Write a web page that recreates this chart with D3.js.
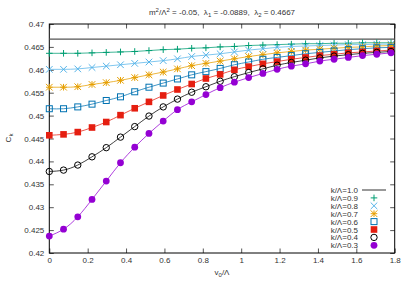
<!DOCTYPE html>
<html><head><meta charset="utf-8">
<script src="https://cdn.jsdelivr.net/npm/d3@7"></script>
<style>body{margin:0;background:#fff}svg{display:block}text{font-family:"Liberation Sans",Arial,sans-serif;white-space:pre}</style>
</head><body>
<svg id="c" width="409" height="287"></svg>
<script>
const xVals = [0, 0.0742, 0.1484, 0.2226, 0.2968, 0.371, 0.4452, 0.5194, 0.5936, 0.6678, 0.742, 0.8162, 0.8904, 0.9646, 1.0388, 1.113, 1.1872, 1.2614, 1.3356, 1.4098, 1.484, 1.5582, 1.6324, 1.7066, 1.7808];
const k10 = 0.4667;
const k09 = [0.4636,0.4636,0.4636,0.4637,0.4638,0.4639,0.4640,0.4642,0.4644,0.4645,0.4647,0.4648,0.4650,0.4651,0.4653,0.4654,0.4655,0.4656,0.4657,0.4657,0.4658,0.4658,0.4659,0.4659,0.4659];
const k08 = [0.4601,0.4601,0.4602,0.4605,0.4608,0.4611,0.4614,0.4617,0.4620,0.4624,0.4629,0.4632,0.4635,0.4639,0.4643,0.4646,0.4649,0.4651,0.4652,0.4653,0.4654,0.4655,0.4655,0.4656,0.4656];
const k07 = [0.4562,0.4562,0.4563,0.4568,0.4572,0.4577,0.4583,0.4589,0.4595,0.4602,0.4609,0.4614,0.4619,0.4624,0.4629,0.4633,0.4637,0.4640,0.4643,0.4645,0.4647,0.4649,0.4650,0.4652,0.4653];
const k06 = [0.4515,0.4515,0.4519,0.4525,0.4533,0.4541,0.4552,0.4562,0.4571,0.4580,0.4589,0.4596,0.4603,0.4611,0.4617,0.4623,0.4627,0.4631,0.4635,0.4638,0.4641,0.4644,0.4646,0.4648,0.4649];
const k05 = [0.4457,0.4459,0.4464,0.4474,0.4486,0.4501,0.4516,0.4530,0.4544,0.4557,0.4569,0.4581,0.4590,0.4600,0.4607,0.4613,0.4618,0.4623,0.4627,0.4631,0.4634,0.4637,0.4639,0.4641,0.4643];
const k04 = [0.4378,0.4381,0.4392,0.4410,0.4430,0.4453,0.4476,0.4499,0.4519,0.4536,0.4551,0.4563,0.4575,0.4585,0.4594,0.4602,0.4610,0.4616,0.4621,0.4626,0.4630,0.4633,0.4636,0.4638,0.4640];
const k03 = [0.4237,0.4252,0.4279,0.4317,0.4357,0.4397,0.4431,0.4461,0.4488,0.4513,0.4530,0.4546,0.4561,0.4573,0.4583,0.4592,0.4601,0.4608,0.4613,0.4619,0.4623,0.4627,0.4631,0.4634,0.4637];
const labels = ["k/\u039B=1.0","k/\u039B=0.9","k/\u039B=0.8","k/\u039B=0.7","k/\u039B=0.6","k/\u039B=0.5","k/\u039B=0.4","k/\u039B=0.3"];
const xTicks = [0,0.2,0.4,0.6,0.8,1,1.2,1.4,1.6,1.8];
const yTicks = [0.42,0.425,0.43,0.435,0.44,0.445,0.45,0.455,0.46,0.465,0.47];

const series = [
  {lab:labels[1], v:k09, c:"#009e73", m:"plus"},
  {lab:labels[2], v:k08, c:"#56b4e9", m:"cross"},
  {lab:labels[3], v:k07, c:"#e69f00", m:"star"},
  {lab:labels[4], v:k06, c:"#0072b2", m:"osq"},
  {lab:labels[5], v:k05, c:"#e51e10", m:"fsq"},
  {lab:labels[6], v:k04, c:"#000000", m:"ocirc"},
  {lab:labels[7], v:k03, c:"#9400d3", m:"fcirc"}
];

const L=49.3, R=394.7, T=24, B=253;
const svg = d3.select("#c");
const x = d3.scaleLinear().domain([0,1.8]).range([L,R]);
const y = d3.scaleLinear().domain([0.42,0.47]).range([B,T]);

const tk = 4.5;
const g = svg.append("g");
const fmt = d => d3.format("")(+d.toFixed(3));
const axB = d3.axisBottom(x).tickValues(xTicks).tickSize(-tk).tickPadding(4).tickFormat(fmt);
const axT = d3.axisTop(x).tickValues(xTicks).tickSize(-tk).tickFormat("");
const axL = d3.axisLeft(y).tickValues(yTicks).tickSize(-tk).tickPadding(5).tickFormat(fmt);
const axR = d3.axisRight(y).tickValues(yTicks).tickSize(-tk).tickFormat("");
[[axB,`translate(0,${B})`],[axT,`translate(0,${T})`],[axL,`translate(${L},0)`],[axR,`translate(${R},0)`]].forEach(([a,t])=>{
  const gg = g.append("g").attr("transform",t).call(a);
  gg.select(".domain").remove();
  gg.selectAll("line").attr("stroke","#555").attr("stroke-width",1);
  gg.selectAll("text").attr("font-size",8).attr("fill","#333").attr("font-family","Liberation Sans, Arial, sans-serif");
});
svg.append("rect").attr("x",L).attr("y",T).attr("width",R-L).attr("height",B-T)
  .attr("fill","none").attr("stroke","#000").attr("stroke-width",1);

svg.append("line").attr("x1",x(0)).attr("x2",x(1.8)).attr("y1",y(k10)).attr("y2",y(k10))
  .attr("stroke","#555").attr("stroke-width",1.2);

const line = d3.line().x((d,i)=>x(xVals[i])).y(d=>y(d)).curve(d3.curveNatural);

function marker(sel, type, c){
  const s=3.3;
  if(type==="plus"){
    sel.append("path").attr("d",`M${-s},0H${s}M0,${-s}V${s}`).attr("stroke",c).attr("stroke-width",1).attr("fill","none");
  } else if(type==="cross"){
    sel.append("path").attr("d",`M${-s},${-s}L${s},${s}M${-s},${s}L${s},${-s}`).attr("stroke",c).attr("stroke-width",1).attr("fill","none");
  } else if(type==="star"){
    sel.append("path").attr("d",`M${-s},0H${s}M0,${-s}V${s}M${-s},${-s}L${s},${s}M${-s},${s}L${s},${-s}`).attr("stroke",c).attr("stroke-width",1).attr("fill","none");
  } else if(type==="osq"){
    sel.append("rect").attr("x",-3).attr("y",-3).attr("width",6).attr("height",6).attr("fill","none").attr("stroke",c).attr("stroke-width",1);
  } else if(type==="fsq"){
    sel.append("rect").attr("x",-3.3).attr("y",-3.3).attr("width",6.6).attr("height",6.6).attr("fill",c);
  } else if(type==="ocirc"){
    sel.append("circle").attr("r",3.2).attr("fill","none").attr("stroke",c).attr("stroke-width",1);
  } else if(type==="fcirc"){
    sel.append("circle").attr("r",3.4).attr("fill",c);
  }
}

series.forEach(s=>{
  svg.append("path").datum(s.v).attr("d",line).attr("fill","none").attr("stroke",s.c).attr("stroke-width",1).attr("stroke-opacity",0.75);
  s.v.forEach((v,i)=>{
    const gm = svg.append("g").attr("transform",`translate(${x(xVals[i])},${y(v)})`);
    marker(gm, s.m, s.c);
  });
});

const lx=358, ly0=190, dy=7.9;
const lg = svg.append("g");
lg.append("text").attr("x",lx).attr("y",ly0+3).attr("text-anchor","end").attr("font-size",8).attr("fill","#333").text(labels[0]);
lg.append("line").attr("x1",362).attr("x2",386).attr("y1",ly0).attr("y2",ly0).attr("stroke","#555").attr("stroke-width",1.2);
series.forEach((s,i)=>{
  const yy = ly0 + dy*(i+1);
  lg.append("text").attr("x",lx).attr("y",yy+3).attr("text-anchor","end").attr("font-size",8).attr("fill","#333").text(s.lab);
  const gm = lg.append("g").attr("transform",`translate(374,${yy})`);
  marker(gm, s.m, s.c);
});

const t = svg.append("text").attr("x",222).attr("y",15).attr("text-anchor","middle").attr("font-size",8).attr("fill","#333").attr("xml:space","preserve");
t.append("tspan").text("m");
t.append("tspan").attr("dy",-3).attr("font-size",6).text("2");
t.append("tspan").attr("dy",3).text("/\u039B");
t.append("tspan").attr("dy",-3).attr("font-size",6).text("2");
t.append("tspan").attr("dy",3).text(" = -0.05,  \u03BB");
t.append("tspan").attr("dy",2).attr("font-size",6).text("1");
t.append("tspan").attr("dy",-2).text(" = -0.0889,  \u03BB");
t.append("tspan").attr("dy",2).attr("font-size",6).text("2");
t.append("tspan").attr("dy",-2).text(" = 0.4667");

const xl = svg.append("text").attr("x",222).attr("y",275).attr("text-anchor","middle").attr("font-size",8).attr("fill","#333");
xl.append("tspan").text("v");
xl.append("tspan").attr("dy",2).attr("font-size",6).text("0");
xl.append("tspan").attr("dy",-2).text("/\u039B");

const yl = svg.append("text").attr("transform","translate(11,138) rotate(-90)").attr("text-anchor","middle").attr("font-size",8).attr("fill","#333");
yl.append("tspan").text("C");
yl.append("tspan").attr("dy",2).attr("font-size",6).text("k");
</script>
</body></html>
